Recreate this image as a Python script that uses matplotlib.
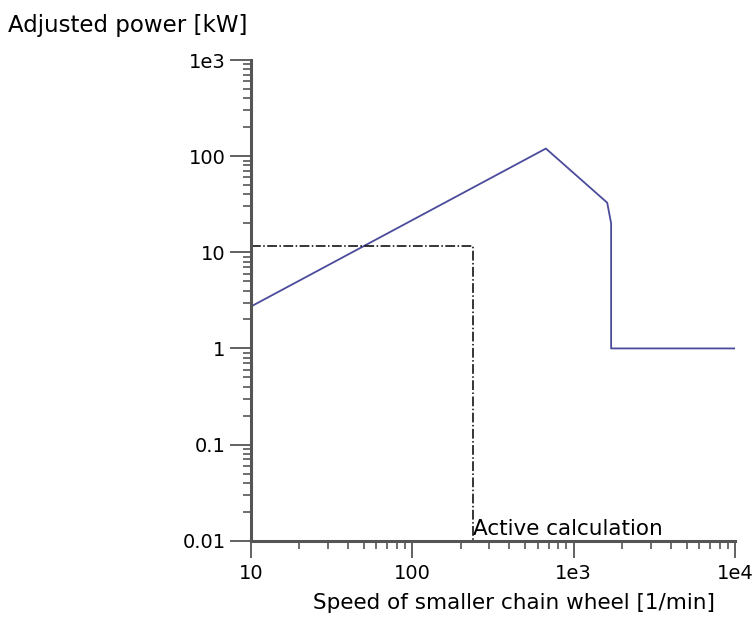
import matplotlib
matplotlib.use('Agg')
import matplotlib.pyplot as plt
from matplotlib.ticker import FixedLocator, FixedFormatter, LogLocator, NullFormatter

# Kurvendaten
speed = [10, 673, 1613, 1706, 1706, 10000]
power = [2.72, 120, 32.8, 20, 1, 1]

# Aktive Berechnung
active_speed = 237
active_power = 11.7

xticks = [10, 100, 1000, 10000]
xlabels = ['10', '100', '1e3', '1e4']
yticks = [0.01, 0.1, 1, 10, 100, 1000]
ylabels = ['0.01', '0.1', '1', '10', '100', '1e3']

plt.rcParams['font.family'] = ['DejaVu Sans']
fig = plt.figure(figsize=(7.54, 6.35), dpi=100)
ax = fig.add_axes([0.3325, 0.1485, 0.6425, 0.757])

ax.plot(speed, power, color='#4b4b9b', linewidth=1.3)
ax.plot([10, active_speed, active_speed], [active_power, active_power, 0.01],
        color='black', linestyle='-.', linewidth=1.1)
ax.text(active_speed, 0.0105, 'Active calculation', fontsize=15.5, ha='left', va='bottom')

ax.set_xscale('log')
ax.set_yscale('log')
ax.set_xlim(10, 10000)
ax.set_ylim(0.01, 1000)

ax.xaxis.set_major_locator(FixedLocator(xticks))
ax.xaxis.set_major_formatter(FixedFormatter(xlabels))
ax.yaxis.set_major_locator(FixedLocator(yticks))
ax.yaxis.set_major_formatter(FixedFormatter(ylabels))
ax.xaxis.set_minor_locator(LogLocator(base=10, subs=range(2, 10)))
ax.yaxis.set_minor_locator(LogLocator(base=10, subs=range(2, 10)))
ax.xaxis.set_minor_formatter(NullFormatter())
ax.yaxis.set_minor_formatter(NullFormatter())

for s in ['top', 'right']:
    ax.spines[s].set_visible(False)
for s in ['left', 'bottom']:
    ax.spines[s].set_color('#555555')
    ax.spines[s].set_linewidth(2.2)

ax.tick_params(which='major', width=1.3, color='#555555', labelsize=14, direction='out')
ax.tick_params(axis='y', which='major', length=15, pad=3)
ax.tick_params(axis='x', which='major', length=12, pad=5)
ax.tick_params(which='minor', length=6, width=1.2, color='#555555', direction='out')

fig.text(0.011, 0.96, 'Adjusted power [kW]', fontsize=16.5, ha='left', va='center')
fig.text(0.682, 0.05, 'Speed of smaller chain wheel [1/min]', fontsize=15.5, ha='center', va='center')

plt.savefig('out.png', dpi=100)
